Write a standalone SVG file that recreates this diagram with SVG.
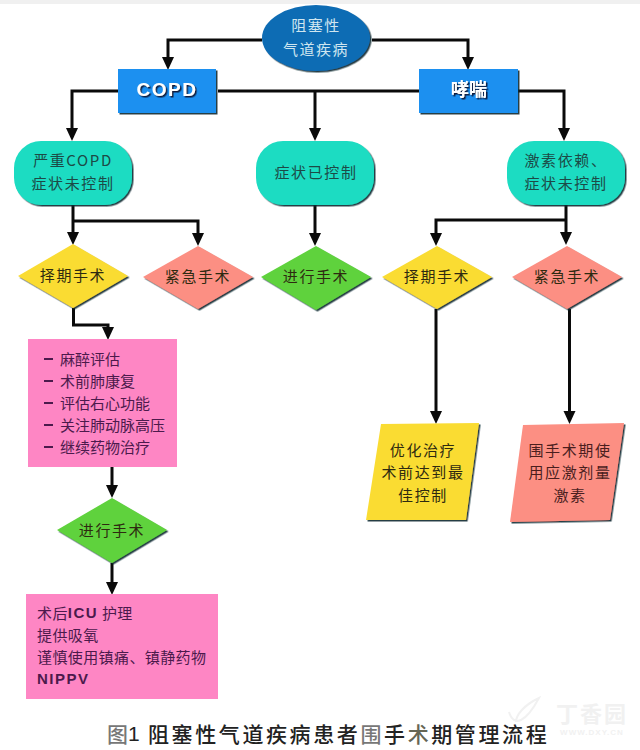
<svg xmlns="http://www.w3.org/2000/svg" width="640" height="750" viewBox="0 0 640 750">
<style>
text{font-family:"Noto Sans CJK SC","Liberation Sans",sans-serif;font-size:15px;text-anchor:middle;dominant-baseline:central}
.c{fill:none;stroke:#0a0a0a;stroke-width:3;stroke-linejoin:miter}
.a{marker-end:url(#arr)}
.sh{filter:url(#ds)}
.dark{fill:#2e2a10;letter-spacing:1.6px}
.teal{fill:#1c4a46;letter-spacing:1.6px}
.pk{fill:#4c1a4c;text-anchor:start}
.pk2{fill:#4c1a4c;text-anchor:start;letter-spacing:.4px}
.wm{fill:#f1f1f1;font-weight:700}
.cap{letter-spacing:2.600px}
</style>
<defs>
<marker id="arr" markerUnits="userSpaceOnUse" markerWidth="13" markerHeight="13" viewBox="0 0 13 13" refX="1" refY="6.5" orient="auto"><path d="M0,0.5L13,6.5L0,12.5z" fill="#0a0a0a"/></marker>
<filter id="ds" x="-10%" y="-10%" width="120%" height="125%"><feDropShadow dx="1.5" dy="1.5" stdDeviation="0.7" flood-color="#0c2a30" flood-opacity="0.9"/></filter>
<filter id="ts" x="-20%" y="-20%" width="140%" height="140%"><feDropShadow dx="1.5" dy="1.5" stdDeviation="0.3" flood-color="#0a1a40"/></filter>
</defs>
<rect width="640" height="750" fill="#ffffff"/>
<rect width="640" height="4" fill="#f0f0f0"/>
<g id="connectors">
<path class="c a" d="M262,40H168V58"/>
<path class="c a" d="M372,40H468V58"/>
<path class="c a" d="M118,91H72V129"/>
<path class="c" d="M218,91H419"/>
<path class="c a" d="M315,91V129"/>
<path class="c a" d="M518,91H564V129"/>
<path class="c a" d="M73,205V233"/>
<path class="c a" d="M73,221H198V234"/>
<path class="c a" d="M315,205V234"/>
<path class="c a" d="M566,205V233"/>
<path class="c a" d="M566,220H436V234"/>
<path class="c a" d="M73.500,308V325H108V328"/>
<path class="c a" d="M436,309V412"/>
<path class="c a" d="M569.500,309V412"/>
<path class="c a" d="M112,467V486"/>
<path class="c a" d="M112,563V583"/>
</g>
<g id="n-root"><ellipse class="sh" cx="316" cy="38" rx="54" ry="33" fill="#0f6cb4"/><text x="316" y="24" fill="#cfe6f0" style="letter-spacing:1.500px">阻塞性</text><text x="316" y="48" fill="#cfe6f0" style="letter-spacing:1.500px">气道疾病</text></g>
<g id="n-copd"><rect class="sh" x="118" y="69" width="98" height="44" fill="#1a90f0"/><text x="167" y="89" fill="#ffffff" filter="url(#ts)" style="font-family:'Liberation Sans',sans-serif;font-weight:700;font-size:19px;letter-spacing:1.500px">COPD</text></g>
<g id="n-asthma"><rect class="sh" x="419" y="69" width="99" height="44" fill="#1a90f0"/><text x="469" y="88" fill="#ffffff" filter="url(#ts)" style="font-weight:700;font-size:18px">哮喘</text></g>
<g id="n-severe"><rect class="sh" x="14" y="141" width="118" height="64" rx="27" fill="#1ddcc2"/><text x="73" y="159" class="teal">严重COPD</text><text x="73" y="182" class="teal">症状未控制</text></g>
<g id="n-ctrl"><rect class="sh" x="256" y="141" width="118" height="64" rx="27" fill="#1ddcc2"/><text x="316" y="171" class="teal">症状已控制</text></g>
<g id="n-steroid"><rect class="sh" x="507" y="141" width="118" height="64" rx="27" fill="#1ddcc2"/><text x="566" y="159" class="teal">激素依赖、</text><text x="566" y="182" class="teal">症状未控制</text></g>
<g id="n-d1"><polygon class="sh" points="73,244 128,276 73,308 18,276" fill="#fadc32"/><text x="73" y="274" class="dark">择期手术</text></g>
<g id="n-d2"><polygon class="sh" points="198,246 253,277 198,309 143,277" fill="#fc8f83"/><text x="198" y="275" class="dark">紧急手术</text></g>
<g id="n-d3"><polygon class="sh" points="316,246 371,277 316,310 261,277" fill="#5ed23c"/><text x="316" y="275" class="dark">进行手术</text></g>
<g id="n-d4"><polygon class="sh" points="437,246 492,277 437,309 382,277" fill="#fadc32"/><text x="437" y="275" class="dark">择期手术</text></g>
<g id="n-d5"><polygon class="sh" points="567,246 622,277 567,309 512,277" fill="#fc8f83"/><text x="567" y="275" class="dark">紧急手术</text></g>
<g id="n-p1"><rect x="28" y="339" width="149" height="128" fill="#fe86c4"/>
<path d="M44,359h9M44,381h9M44,403h9M44,425h9M44,447h9" stroke="#4c1a4c" stroke-width="2" fill="none"/>
<text x="60" y="358" class="pk">麻醉评估</text><text x="60" y="380" class="pk">术前肺康复</text><text x="60" y="402" class="pk">评估右心功能</text><text x="60" y="424" class="pk">关注肺动脉高压</text><text x="60" y="446" class="pk">继续药物治疗</text></g>
<g id="n-d6"><polygon class="sh" points="112,498 167,530 112,563 57,530" fill="#5ed23c"/><text x="112" y="529" class="dark">进行手术</text></g>
<g id="n-p2"><rect x="26" y="594" width="192" height="105" fill="#fe86c4"/>
<text x="37" y="612" class="pk2">术后<tspan style="font-family:'Liberation Sans',sans-serif;font-weight:700;letter-spacing:1.500px">ICU</tspan> 护理</text><text x="37" y="634" class="pk2">提供吸氧</text><text x="37" y="656" class="pk2">谨慎使用镇痛、镇静药物</text><text x="37" y="678" class="pk2" style="font-family:'Liberation Sans',sans-serif;font-weight:700;letter-spacing:1.500px">NIPPV</text></g>
<g id="n-q1"><polygon class="sh" points="381,424 479,423 466,520 366,520" fill="#fadc32"/><text x="423" y="449" class="dark">优化治疗</text><text x="423" y="471" class="dark">术前达到最</text><text x="423" y="494" class="dark">佳控制</text></g>
<g id="n-q2"><polygon class="sh" points="523,425 624,423 610,520 510,522" fill="#fc8f83"/><text x="570" y="449" fill="#4a1e1e" style="letter-spacing:1.600px">围手术期使</text><text x="570" y="471" fill="#4a1e1e" style="letter-spacing:1.600px">用应激剂量</text><text x="570" y="494" fill="#4a1e1e" style="letter-spacing:1.600px">激素</text></g>
<g id="watermark"><path d="M545,712C550,728 562,722 575,698C560,705 552,715 552,722" transform="translate(-36,0)" fill="none" stroke="#f1f1f1" stroke-width="2"/><text x="592" y="712" class="wm" style="font-size:22px;letter-spacing:2px">丁香园</text><text x="592" y="732" class="wm" style="font-size:8px;letter-spacing:1px;font-family:'Liberation Sans',sans-serif">WWW.DXY.CN</text></g>
<text x="107" y="733" fill="#222222" style="text-anchor:start;font-size:21px;font-weight:500"><tspan fill="#777777">图</tspan><tspan font-family="Liberation Sans" font-weight="400">1</tspan><tspan x="148" class="cap">阻塞性气道疾病患者</tspan><tspan fill="#777777" class="cap">围</tspan><tspan class="cap">手</tspan><tspan fill="#666655" class="cap">术</tspan><tspan class="cap">期管理流程</tspan></text>
</svg>
